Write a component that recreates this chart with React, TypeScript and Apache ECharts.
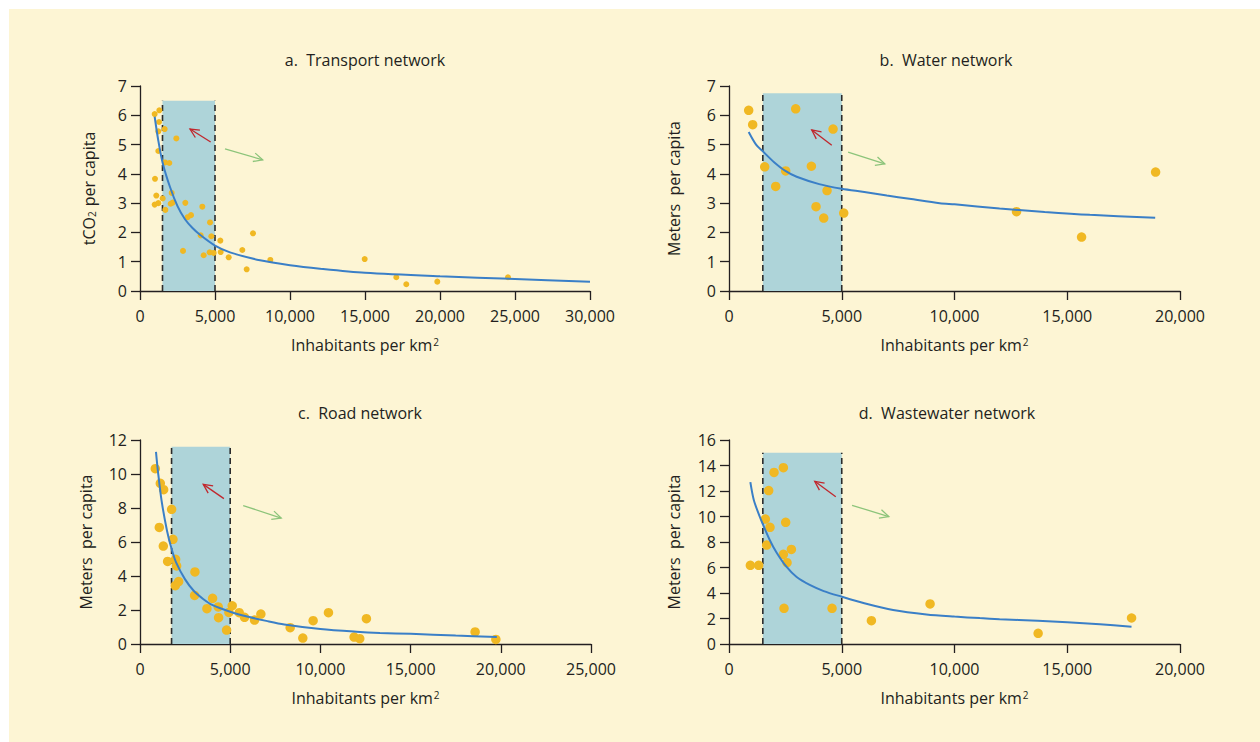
import React, { useEffect, useRef } from "react";
import * as echarts from "echarts";

// ---------- DATA ----------
const panelTitles = ["a.\u00a0 Transport network", "b.\u00a0 Water network", "c.\u00a0 Road network", "d.\u00a0 Wastewater network"];
const xAxisName = "Inhabitants per km{sup|2}";
const yAxisNames = ["tCO{sub|2} per capita", "Meters\u00a0 per capita", "Meters\u00a0 per capita", "Meters\u00a0 per capita"];
const xMax = [30000, 20000, 25000, 20000];
const yMax = [7, 7, 12, 16];
const yInterval = [1, 1, 2, 2];

const transportPoints = [
  [978, 6.04], [1289, 6.17], [1267, 5.77], [1222, 5.45], [1644, 5.53], [2422, 5.21], [1222, 4.78],
  [1667, 4.39], [1956, 4.37], [1000, 3.83], [1089, 3.26], [2111, 3.35], [1511, 3.16], [978, 2.95],
  [1222, 3.0], [2044, 2.98], [2178, 3.02], [1689, 2.77], [3022, 3.01], [4156, 2.88], [3178, 2.52],
  [3400, 2.59], [4667, 2.34], [4044, 1.9], [4756, 1.87], [5356, 1.72], [7533, 1.97], [2867, 1.37],
  [4244, 1.22], [4644, 1.32], [4911, 1.3], [5378, 1.33], [5911, 1.15], [6822, 1.4], [7111, 0.74],
  [8689, 1.06], [14980, 1.09], [17087, 0.47], [17753, 0.23], [19820, 0.32], [24533, 0.47], [30067, 0.19],
];
const waterPoints = [
  [873, 6.17], [1050, 5.68], [2958, 6.22], [4615, 5.53], [1583, 4.24], [2514, 4.1], [3653, 4.26],
  [2071, 3.57], [4348, 3.43], [3860, 2.88], [4200, 2.49], [5088, 2.66], [12751, 2.71], [15635, 1.84],
  [18918, 4.06],
];
const roadPoints = [
  [849, 10.31], [1126, 9.45], [1310, 9.08], [1753, 7.92], [1070, 6.86], [1827, 6.16], [1292, 5.76],
  [1532, 4.86], [1975, 4.98], [2030, 4.59], [2141, 3.67], [1956, 3.43], [3045, 4.24], [3027, 2.86],
  [4024, 2.69], [3710, 2.08], [4337, 2.18], [4356, 1.55], [4799, 0.82], [5112, 2.25], [4928, 1.86],
  [5500, 1.84], [5795, 1.57], [6349, 1.41], [6700, 1.76], [8324, 0.96], [9025, 0.35], [9597, 1.37],
  [10447, 1.84], [11868, 0.41], [12181, 0.31], [12551, 1.49], [18576, 0.71], [19727, 0.27],
];
const wastewaterPoints = [
  [947, 6.17], [1316, 6.17], [2411, 13.83], [1997, 13.46], [1760, 12.03], [1612, 9.8], [1819, 9.15],
  [2514, 9.54], [1671, 7.76], [2766, 7.42], [2411, 7.03], [2573, 6.38], [2440, 2.8], [4570, 2.8],
  [6315, 1.83], [8917, 3.14], [13709, 0.84], [17852, 2.04],
];

const transportCurve = [
  [978, 5.95], [1200, 5.2], [1500, 4.4], [2000, 3.55], [2500, 2.9], [3000, 2.45], [3500, 2.15],
  [4000, 1.92], [5000, 1.55], [6000, 1.32], [8000, 1.05], [10000, 0.88], [12000, 0.76], [15000, 0.62],
  [20000, 0.5], [25000, 0.41], [30000, 0.32],
];
const waterCurve = [
  [873, 5.43], [1200, 5.0], [1500, 4.77], [2000, 4.4], [2500, 4.1], [3000, 3.9], [4000, 3.65],
  [5000, 3.49], [6000, 3.38], [7000, 3.26], [8000, 3.15], [9348, 3.0], [10000, 2.96], [12000, 2.82],
  [14000, 2.7], [16000, 2.6], [18900, 2.5],
];
const roadCurve = [
  [886, 11.3], [1000, 10.1], [1200, 8.4], [1500, 6.65], [1750, 5.6], [2000, 4.8], [2500, 3.8],
  [3000, 3.1], [3500, 2.65], [4000, 2.3], [5000, 1.9], [6000, 1.6], [7000, 1.36], [8000, 1.15],
  [10000, 0.88], [12000, 0.72], [13300, 0.65], [15000, 0.6], [17500, 0.5], [19780, 0.41],
];
const wastewaterCurve = [
  [947, 12.7], [1100, 11.3], [1360, 10.0], [1500, 9.4], [1806, 8.16], [2100, 7.2], [2546, 6.06],
  [3000, 5.25], [3580, 4.63], [4200, 4.15], [5000, 3.71], [6000, 3.2], [7277, 2.67], [8757, 2.32],
  [10000, 2.15], [11122, 2.03], [12000, 1.95], [13700, 1.82], [15000, 1.7], [16450, 1.54], [17850, 1.36],
];

// shaded density band: [from, to, top]
const bands = [
  [1500, 5000, 6.5],
  [1500, 5000, 6.75],
  [1750, 5000, 11.6],
  [1500, 5000, 15],
];
// arrows: [fromX, fromY, toX, toY]
const redArrows = [
  [4711, 5.09, 3333, 5.53],
  [4557, 4.98, 3669, 5.5],
  [4651, 8.55, 3506, 9.39],
  [4734, 11.55, 3802, 12.76],
];
const greenArrows = [
  [5667, 4.85, 8178, 4.48],
  [5280, 4.74, 6908, 4.34],
  [5720, 8.14, 7826, 7.41],
  [5457, 10.88, 7086, 9.99],
];

const pointSets = [transportPoints, waterPoints, roadPoints, wastewaterPoints];
const curveSets = [transportCurve, waterCurve, roadCurve, wastewaterCurve];

// ---------- STYLE / LAYOUT ----------
const FONT = "Open Sans";
const INK = "#231f20";
const grids = [
  { left: 131, top: 77, width: 450, height: 205 },
  { left: 720, top: 77, width: 451, height: 205 },
  { left: 131, top: 431, width: 451, height: 204 },
  { left: 720, top: 431, width: 451, height: 204 },
];
const titlePos = [
  [356, 51],
  [937, 51],
  [351, 404],
  [938, 404],
];
const yNameGap = [43, 47, 46, 47];
const dotSize = [6, 9.5, 9.5, 9.5];

const richStyles = {
  sup: { fontSize: 10, verticalAlign: "top", fontFamily: FONT, color: INK, padding: [0, 0, 0, 1] },
  sub: { fontSize: 10, verticalAlign: "bottom", fontFamily: FONT, color: INK, padding: [0, 1, 0, 0] },
};

function bandRender(params: any, api: any) {
  const x0 = api.value(0);
  const x1 = api.value(1);
  const top = api.value(2);
  const p0 = api.coord([x0, 0]);
  const p1 = api.coord([x1, top]);
  const dash = { stroke: "#2b2b2b", lineWidth: 1.6, lineDash: [6, 4], fill: null };
  return {
    type: "group",
    children: [
      {
        type: "rect",
        shape: { x: p0[0], y: p1[1], width: p1[0] - p0[0], height: p0[1] - p1[1] },
        style: { fill: "#aed4d9" },
      },
      { type: "line", shape: { x1: p0[0], y1: p0[1], x2: p0[0], y2: p1[1] }, style: dash },
      { type: "line", shape: { x1: p1[0], y1: p0[1], x2: p1[0], y2: p1[1] }, style: dash },
    ],
  };
}

function arrowRender(color: string) {
  return (params: any, api: any) => {
    const a = api.coord([api.value(0), api.value(1)]);
    const b = api.coord([api.value(2), api.value(3)]);
    const ang = Math.atan2(b[1] - a[1], b[0] - a[0]);
    const L = 10;
    const s = 0.45;
    const h1 = [b[0] - L * Math.cos(ang - s), b[1] - L * Math.sin(ang - s)];
    const h2 = [b[0] - L * Math.cos(ang + s), b[1] - L * Math.sin(ang + s)];
    const st = { stroke: color, lineWidth: 1.3, fill: null };
    return {
      type: "group",
      children: [
        { type: "line", shape: { x1: a[0], y1: a[1], x2: b[0], y2: b[1] }, style: st },
        { type: "polyline", shape: { points: [h1, b, h2] }, style: st },
      ],
    };
  };
}

function buildOption() {
  const xAxis: any[] = [];
  const yAxis: any[] = [];
  const series: any[] = [];
  const graphic: any[] = [];
  for (let i = 0; i < 4; i++) {
    xAxis.push({
      type: "value",
      gridIndex: i,
      min: 0,
      max: xMax[i],
      interval: 5000,
      name: xAxisName,
      nameLocation: "middle",
      nameGap: 46,
      nameTextStyle: { fontFamily: FONT, fontSize: 16, color: INK, rich: richStyles },
      axisLine: { show: true, lineStyle: { color: INK, width: 1.3 } },
      axisTick: { show: true, inside: false, length: 9, lineStyle: { color: INK, width: 1.3 } },
      axisLabel: { fontFamily: FONT, fontSize: 16, color: INK, margin: 17 },
      splitLine: { show: false },
    });
    yAxis.push({
      type: "value",
      gridIndex: i,
      min: 0,
      max: yMax[i],
      interval: yInterval[i],
      name: yAxisNames[i],
      nameLocation: "middle",
      nameGap: yNameGap[i],
      nameRotate: 90,
      nameTextStyle: { fontFamily: FONT, fontSize: 16, color: INK, rich: richStyles },
      axisLine: { show: true, lineStyle: { color: INK, width: 1.3 } },
      axisTick: { show: true, inside: false, length: 9, lineStyle: { color: INK, width: 1.3 } },
      axisLabel: { fontFamily: FONT, fontSize: 16, color: INK, margin: 13 },
      splitLine: { show: false },
    });
    series.push({
      type: "custom",
      xAxisIndex: i,
      yAxisIndex: i,
      renderItem: bandRender,
      encode: { x: [0, 1], y: 2 },
      data: [bands[i]],
      z: 1,
      silent: true,
    });
    series.push({
      type: "custom",
      xAxisIndex: i,
      yAxisIndex: i,
      renderItem: arrowRender("#c1272d"),
      encode: { x: [0, 2], y: [1, 3] },
      data: [redArrows[i]],
      z: 2,
      silent: true,
    });
    series.push({
      type: "custom",
      xAxisIndex: i,
      yAxisIndex: i,
      renderItem: arrowRender("#8cc47a"),
      encode: { x: [0, 2], y: [1, 3] },
      data: [greenArrows[i]],
      z: 2,
      silent: true,
    });
    series.push({
      type: "scatter",
      xAxisIndex: i,
      yAxisIndex: i,
      data: pointSets[i],
      symbol: "circle",
      symbolSize: dotSize[i],
      itemStyle: { color: "#f0b823", opacity: 1 },
      z: 3,
    });
    series.push({
      type: "line",
      xAxisIndex: i,
      yAxisIndex: i,
      data: curveSets[i],
      showSymbol: false,
      smooth: 0.3,
      lineStyle: { color: "#3a7fc7", width: 2 },
      z: 4,
    });
    graphic.push({
      type: "text",
      x: titlePos[i][0],
      y: titlePos[i][1],
      style: {
        text: panelTitles[i],
        fontFamily: FONT,
        fontSize: 16,
        fill: INK,
        textAlign: "center",
        textVerticalAlign: "middle",
      },
    });
  }
  return {
    animation: false,
    backgroundColor: "#fdf5d4",
    textStyle: { fontFamily: FONT },
    grid: grids.map((g) => ({ ...g, containLabel: false })),
    xAxis,
    yAxis,
    series,
    graphic,
  };
}

export default function App() {
  const ref = useRef<HTMLDivElement>(null);
  useEffect(() => {
    if (!ref.current) return;
    const chart = echarts.init(ref.current, null, { renderer: "svg" });
    chart.setOption(buildOption() as any);
    return () => chart.dispose();
  }, []);
  return (
    <div
      ref={ref}
      style={{ position: "absolute", left: 9, top: 9, width: 1251, height: 733 }}
    />
  );
}
